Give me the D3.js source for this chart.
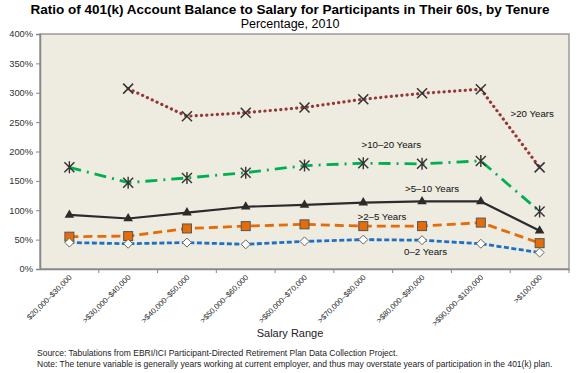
<!DOCTYPE html>
<html><head><meta charset="utf-8">
<script src="https://cdn.jsdelivr.net/npm/d3@7"></script>
<style>body{margin:0;background:#fff;}svg{display:block;font-family:"Liberation Sans",Arial,sans-serif;}</style>
</head><body>
<svg id="c" width="580" height="373"></svg>
<script>
const categories = ["$20,000–$30,000", ">$30,000–$40,000", ">$40,000–$50,000", ">$50,000–$60,000", ">$60,000–$70,000", ">$70,000–$80,000", ">$80,000–$90,000", ">$90,000–$100,000", ">$100,000"];
const yTicks = [0, 50, 100, 150, 200, 250, 300, 350, 400];
const tenure0to2 = [45, 43, 45, 42, 47, 50, 49, 43, 28];
const tenure2to5 = [55, 56, 69, 73, 76, 73, 73, 79, 44];
const tenure5to10 = [92, 86, 96, 106, 109, 113, 115, 115, 65];
const tenure10to20 = [173, 147, 155, 164, 176, 180, 179, 184, 98];
const tenure20plus = [null, 307, 260, 266, 275, 289, 299, 306, 173];
const seriesNames = ["0–2 Years", ">2–5 Years", ">5–10 Years", ">10–20 Years", ">20 Years"];

const svg = d3.select("#c");
const m = {l: 40, r: 11, t: 34, b: 104};
const W = 580, H = 373;
const x = d3.scaleBand().domain(categories).range([m.l, W - m.r]);
const y = d3.scaleLinear().domain([0, 400]).range([H - m.b, m.t]);
const cx = d => x(d) + x.bandwidth() / 2;

// title
svg.append("text").attr("x", 290).attr("y", 14).attr("text-anchor", "middle")
  .attr("font-size", 13.5).attr("font-weight", "bold").attr("fill", "#000")
  .text("Ratio of 401(k) Account Balance to Salary for Participants in Their 60s, by Tenure");
svg.append("text").attr("x", 290).attr("y", 28).attr("text-anchor", "middle")
  .attr("font-size", 12.5).attr("fill", "#000").text("Percentage, 2010");

// plot background
svg.append("rect").attr("x", m.l).attr("y", m.t).attr("width", W - m.r - m.l).attr("height", H - m.b - m.t)
  .attr("fill", "#EEEBE0").attr("stroke", "#9a9a9a").attr("stroke-width", 1.5);

// y axis
const yAxis = svg.append("g").attr("transform", `translate(${m.l},0)`)
  .call(d3.axisLeft(y).tickValues(yTicks).tickFormat(d => d + "%").tickSize(4).tickPadding(3));
yAxis.select(".domain").attr("stroke", "#888").attr("stroke-width", 1.5);
yAxis.selectAll(".tick line").attr("stroke", "#888");
yAxis.selectAll("text").attr("font-size", 9.3).attr("fill", "#333").attr("font-family", "Liberation Sans, Arial");

// x axis
const xAxis = svg.append("g").attr("transform", `translate(0,${H - m.b})`)
  .call(d3.axisBottom(x).tickSize(0).tickFormat(""));
xAxis.select(".domain").attr("stroke", "#888").attr("stroke-width", 1.5);
const bounds = categories.slice(1).map(c => x(c)).concat([W - m.r]);
svg.append("g").selectAll("line").data(bounds).join("line")
  .attr("x1", d => d).attr("x2", d => d).attr("y1", H - m.b).attr("y2", H - m.b + 4)
  .attr("stroke", "#888");
svg.append("g").selectAll("text").data(categories).join("text")
  .attr("transform", d => `translate(${cx(d) + 3},${H - m.b + 9}) rotate(-45)`)
  .attr("text-anchor", "end").attr("font-size", 7.7).attr("fill", "#222")
  .text(d => d);

svg.append("text").attr("x", 290).attr("y", 337).attr("text-anchor", "middle")
  .attr("font-size", 11).attr("fill", "#222").text("Salary Range");

svg.append("text").attr("x", 37).attr("y", 356).attr("font-size", 8.5).attr("fill", "#222")
  .text("Source: Tabulations from EBRI/ICI Participant-Directed Retirement Plan Data Collection Project.");
svg.append("text").attr("x", 37).attr("y", 367).attr("font-size", 8.5).attr("fill", "#222")
  .text("Note: The tenure variable is generally years working at current employer, and thus may overstate years of participation in the 401(k) plan.");

const line = d3.line().defined(d => d.v != null).x(d => cx(d.c)).y(d => y(d.v));
const pts = arr => arr.map((v, i) => ({c: categories[i], v}));

const series = [
  {data: tenure20plus, color: "#953735", dash: "0.1 5.2", w: 3.2, cap: "round", marker: "x"},
  {data: tenure10to20, color: "#00B050", dash: "12 6 2 6", w: 2.8, cap: "butt", marker: "star"},
  {data: tenure5to10, color: "#2b2b2b", dash: null, w: 2.2, cap: "butt", marker: "tri"},
  {data: tenure2to5, color: "#E46C0A", dash: "9 5", w: 2.8, cap: "butt", marker: "sq"},
  {data: tenure0to2, color: "#1F6FC6", dash: "5 2.5", w: 2.8, cap: "butt", marker: "dia"}
];

series.forEach(s => {
  const p = svg.append("path").datum(pts(s.data)).attr("d", line)
    .attr("fill", "none").attr("stroke", s.color).attr("stroke-width", s.w)
    .attr("stroke-linecap", s.cap).attr("stroke-linejoin", "round");
  if (s.dash) p.attr("stroke-dasharray", s.dash);
});

series.forEach(s => {
  const g = svg.append("g");
  pts(s.data).filter(d => d.v != null).forEach(d => {
    const px = cx(d.c), py = y(d.v);
    if (s.marker === "x") {
      const r = 5;
      g.append("path").attr("d", `M${px-r},${py-r}L${px+r},${py+r}M${px-r},${py+r}L${px+r},${py-r}`)
        .attr("stroke", "#333").attr("stroke-width", 1.5).attr("fill", "none");
    } else if (s.marker === "star") {
      const r = 5;
      g.append("path").attr("d", `M${px-r},${py-r}L${px+r},${py+r}M${px-r},${py+r}L${px+r},${py-r}M${px},${py-r-1}L${px},${py+r+1}`)
        .attr("stroke", "#333").attr("stroke-width", 1.4).attr("fill", "none");
    } else if (s.marker === "tri") {
      g.append("path").attr("d", d3.symbol(d3.symbolTriangle, 40)()).attr("transform", `translate(${px},${py})`)
        .attr("fill", "#2b2b2b");
    } else if (s.marker === "sq") {
      g.append("rect").attr("x", px - 4.5).attr("y", py - 4.5).attr("width", 9).attr("height", 9)
        .attr("fill", "#E46C0A").attr("stroke", "#555").attr("stroke-width", 1);
    } else if (s.marker === "dia") {
      g.append("path").attr("d", `M${px},${py-4.5}L${px+4.5},${py}L${px},${py+4.5}L${px-4.5},${py}Z`)
        .attr("fill", "#fff").attr("stroke", "#666").attr("stroke-width", 1);
    }
  });
});

const labels = [
  {t: seriesNames[4], x: 510.5, y: 117},
  {t: seriesNames[3], x: 361.5, y: 148},
  {t: seriesNames[2], x: 405, y: 192},
  {t: seriesNames[1], x: 357.5, y: 220},
  {t: seriesNames[0], x: 404, y: 255}
];
svg.append("g").selectAll("text").data(labels).join("text")
  .attr("x", d => d.x).attr("y", d => d.y).attr("font-size", 9.7).attr("fill", "#111")
  .text(d => d.t);
</script>
</body></html>
